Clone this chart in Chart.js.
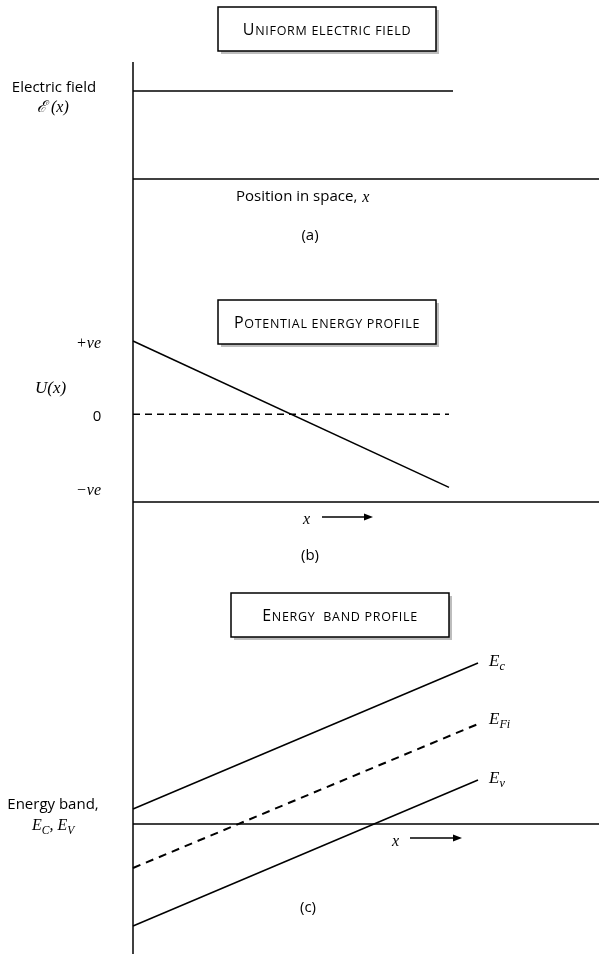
<!DOCTYPE html>
<html>
<head>
<meta charset="utf-8">
<script src="https://cdn.jsdelivr.net/npm/chart.js"></script>
<style>
  body { margin: 0; background: #fff; }
  .panel { position: absolute; left: 0; }
  canvas { display: block; }
</style>
</head>
<body>
<div class="panel" style="top:0px"><canvas id="chartA" width="599" height="260"></canvas></div>
<div class="panel" style="top:260px"><canvas id="chartB" width="599" height="315"></canvas></div>
<div class="panel" style="top:575px"><canvas id="chartC" width="599" height="379"></canvas></div>
<script>
// position along x (0 = left axis, 1 = end of the drawn lines)
const positions = [0, 1]

// (a) uniform electric field
const fieldValues = [1, 1]

// (b) potential energy, goes from +ve to -ve
const potentialValues = [1, -1]
const zeroValues = [0, 0]
const uTicks = ['+ve', '0', '\u2212ve']
const uTickValues = [1, 0, -1]

// (c) energy bands
const ecValues = [0.15, 1.61]
const efiValues = [-0.44, 1.0]
const evValues = [-1.02, 0.44]

const panelTitles = ['Uniform electric field', 'Potential energy profile', 'Energy  band profile']
const panelTags = ['(a)', '(b)', '(c)']

const SANS = '"Open Sans", "DejaVu Sans", sans-serif'
const SERIF = '"Liberation Serif", "DejaVu Serif", serif'

const toXY = vals => positions.map((x, i) => ({ x, y: vals[i] }))

const lineSet = (vals, dash, width) => ({
  data: toXY(vals),
  showLine: true,
  borderColor: '#000',
  borderWidth: width || 1.5,
  borderDash: dash || [],
  pointRadius: 0,
  clip: false
})

function smallCaps(ctx, text, cx, cy) {
  // uppercase letters big, the rest as small capitals
  const parts = text.split('').map(ch => {
    const big = ch !== ch.toLowerCase()
    return { ch: ch.toUpperCase(), font: big ? `16px ${SANS}` : `12.5px ${SANS}` }
  })
  const gap = 0.7
  let w = 0
  parts.forEach(p => { ctx.font = p.font; w += ctx.measureText(p.ch).width + gap })
  let x = cx - w / 2
  ctx.textAlign = 'left'
  ctx.textBaseline = 'alphabetic'
  parts.forEach(p => {
    ctx.font = p.font
    ctx.fillText(p.ch, x, cy + 5.5)
    x += ctx.measureText(p.ch).width + gap
  })
}

function titleBox(ctx, b, text) {
  ctx.fillStyle = '#bdbdbd'
  ctx.fillRect(b.x + 3, b.y + 3, b.w, b.h)
  ctx.fillStyle = '#fff'
  ctx.fillRect(b.x, b.y, b.w, b.h)
  ctx.strokeStyle = '#000'
  ctx.lineWidth = 1.5
  ctx.strokeRect(b.x, b.y, b.w, b.h)
  ctx.fillStyle = '#000'
  smallCaps(ctx, text, b.x + b.w / 2, b.y + b.h / 2)
}

// pieces: [text, isSub]
function mathText(ctx, pieces, x, y, size) {
  ctx.textAlign = 'left'
  ctx.textBaseline = 'middle'
  pieces.forEach(([t, sub]) => {
    const s = sub ? size * 0.72 : size
    ctx.font = `italic ${s}px ${SERIF}`
    ctx.fillText(t, x, sub ? y + size * 0.3 : y)
    x += ctx.measureText(t).width
  })
  return x
}

function plainText(ctx, t, x, y, align, font) {
  ctx.font = font || `15px ${SANS}`
  ctx.textAlign = align || 'center'
  ctx.textBaseline = 'middle'
  ctx.fillText(t, x, y)
  return ctx.measureText(t).width
}

function arrow(ctx, x1, x2, y) {
  ctx.lineWidth = 1.3
  ctx.beginPath()
  ctx.moveTo(x1, y)
  ctx.lineTo(x2 - 6, y)
  ctx.stroke()
  ctx.beginPath()
  ctx.moveTo(x2, y)
  ctx.lineTo(x2 - 9, y - 3.5)
  ctx.lineTo(x2 - 9, y + 3.5)
  ctx.closePath()
  ctx.fill()
}

const decor = {
  a: ctx => {
    titleBox(ctx, { x: 218, y: 7, w: 218, h: 44 }, panelTitles[0])
    plainText(ctx, 'Electric field', 54, 88)
    mathText(ctx, [['\u2130 (x)', false]], 37, 108, 16)
    const w = plainText(ctx, 'Position in space,', 236, 197, 'left')
    mathText(ctx, [['x', false]], 236 + w + 5, 198, 16)
    plainText(ctx, panelTags[0], 310, 236)
  },
  b: (ctx, chart) => {
    titleBox(ctx, { x: 218, y: 300, w: 218, h: 44 }, panelTitles[1])
    const y = chart.scales.y
    uTicks.forEach((t, i) => {
      const py = y.getPixelForValue(uTickValues[i]) + 260 + 3
      if (t === '0') plainText(ctx, t, 97, py)
      else {
        ctx.font = `italic 16px ${SERIF}`
        ctx.textAlign = 'right'
        ctx.textBaseline = 'middle'
        ctx.fillText(t, 101, py)
      }
    })
    mathText(ctx, [['U(x)', false]], 35, 389, 17)
    mathText(ctx, [['x', false]], 303, 520, 16)
    arrow(ctx, 322, 373, 517)
    plainText(ctx, panelTags[1], 310, 556)
  },
  c: ctx => {
    titleBox(ctx, { x: 231, y: 593, w: 218, h: 44 }, panelTitles[2])
    mathText(ctx, [['E', false], ['c', true]], 489, 662, 17)
    mathText(ctx, [['E', false], ['Fi', true]], 489, 720, 17)
    mathText(ctx, [['E', false], ['v', true]], 489, 779, 17)
    plainText(ctx, 'Energy band,', 53, 805)
    mathText(ctx, [['E', false], ['C', true], [', E', false], ['V', true]], 32, 826, 16)
    mathText(ctx, [['x', false]], 392, 842, 16)
    arrow(ctx, 410, 462, 838)
    plainText(ctx, panelTags[2], 308, 908)
  }
}

const figurePlugin = {
  id: 'figure',
  afterDraw(chart) {
    const o = chart.options.plugins.figure
    const ctx = chart.ctx
    const ax = chart.scales.x.getPixelForValue(0)
    ctx.save()
    ctx.strokeStyle = '#000'
    ctx.fillStyle = '#000'
    ctx.lineWidth = 1.5
    // vertical axis
    ctx.beginPath()
    ctx.moveTo(ax, Math.max(0, 62 - o.top))
    ctx.lineTo(ax, chart.height)
    ctx.stroke()
    // horizontal axis
    const by = chart.scales.y.getPixelForValue(o.baseline)
    ctx.beginPath()
    ctx.moveTo(ax, by)
    ctx.lineTo(chart.width, by)
    ctx.stroke()
    ctx.translate(0, -o.top)
    decor[o.key](ctx, chart)
    ctx.restore()
  }
}

function makeChart(id, key, top, datasets, yMin, yMax, baseline, padding) {
  return new Chart(document.getElementById(id), {
    type: 'scatter',
    data: { datasets },
    options: {
      responsive: false,
      animation: false,
      layout: { padding },
      scales: {
        x: { type: 'linear', min: 0, max: 1, display: false },
        y: { type: 'linear', min: yMin, max: yMax, display: false }
      },
      plugins: {
        legend: { display: false },
        tooltip: { enabled: false },
        figure: { key, top, baseline }
      }
    },
    plugins: [figurePlugin]
  })
}

makeChart('chartA', 'a', 0, [lineSet(fieldValues)], 0, 1, 0,
  { left: 133, right: 146, top: 91, bottom: 81 })

makeChart('chartB', 'b', 260, [lineSet(potentialValues), lineSet(zeroValues, [7, 5])], -1.2, 1, -1.2,
  { left: 133, right: 150, top: 81, bottom: 73 })

makeChart('chartC', 'c', 575, [lineSet(ecValues), lineSet(efiValues, [8, 6], 2), lineSet(evValues)], -1.1, 1.7, 0,
  { left: 133, right: 121, top: 79, bottom: 20 })
</script>
</body>
</html>
